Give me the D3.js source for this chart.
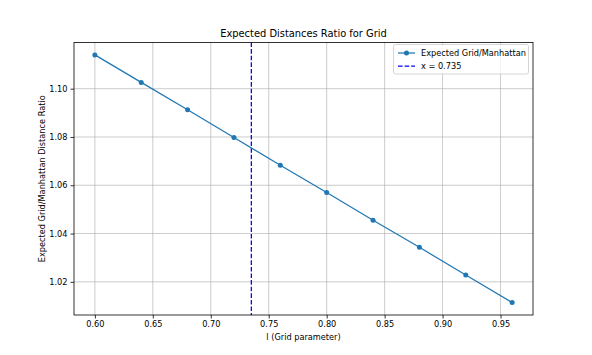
<!DOCTYPE html>
<html><head><meta charset="utf-8">
<script src="https://cdn.jsdelivr.net/npm/d3@7"></script>
<style>body{margin:0;background:#fff}svg{display:block;font-family:"DejaVu Sans",sans-serif}</style>
</head><body><svg id="c" width="592" height="355"></svg>
<script>
const xValues = [0.60, 0.64, 0.68, 0.72, 0.76, 0.80, 0.84, 0.88, 0.92, 0.96];
const ratioValues = [1.1140, 1.1026, 1.0913, 1.0798, 1.0683, 1.0570, 1.0455, 1.0343, 1.0228, 1.0114];
const xTicks = [0.60, 0.65, 0.70, 0.75, 0.80, 0.85, 0.90, 0.95];
const yTicks = [1.02, 1.04, 1.06, 1.08, 1.10];
const vLine = 0.735;
const title = "Expected Distances Ratio for Grid";
const xLabel = "l (Grid parameter)";
const yLabel = "Expected Grid/Manhattan Distance Ratio";
const legendLabels = ["Expected Grid/Manhattan", "x = 0.735"];

const svg = d3.select("#c");
const L = 74, R = 533, T = 42.5, B = 315;
const xmin = d3.min(xValues), xmax = d3.max(xValues);
const ymin = d3.min(ratioValues), ymax = d3.max(ratioValues);
const xp = (xmax - xmin) * 0.05, yp = (ymax - ymin) * 0.05;
const x = d3.scaleLinear().domain([xmin - xp, xmax + xp]).range([L, R]);
const y = d3.scaleLinear().domain([ymin - yp, ymax + yp]).range([B, T]);
const blue = "#1f77b4";

// grid
const g = svg.append("g");
g.selectAll(".gx").data(xTicks).enter().append("line")
  .attr("x1", d => x(d)).attr("x2", d => x(d)).attr("y1", T).attr("y2", B)
  .attr("stroke", "#b0b0b0").attr("stroke-width", 0.8).attr("opacity", 0.8);
g.selectAll(".gy").data(yTicks).enter().append("line")
  .attr("y1", d => y(d)).attr("y2", d => y(d)).attr("x1", L).attr("x2", R)
  .attr("stroke", "#b0b0b0").attr("stroke-width", 0.8).attr("opacity", 0.8);

// axes
const xa = svg.append("g").attr("transform", `translate(0,${B})`)
  .call(d3.axisBottom(x).tickValues(xTicks).tickFormat(d3.format(".2f")).tickSize(3.5).tickPadding(3));
const ya = svg.append("g").attr("transform", `translate(${L},0)`)
  .call(d3.axisLeft(y).tickValues(yTicks).tickFormat(d3.format(".2f")).tickSize(3.5).tickPadding(3));
[xa, ya].forEach(a => {
  a.select(".domain").remove();
  a.selectAll("line").attr("stroke", "#000").attr("stroke-width", 0.8);
  a.selectAll("text").attr("font-size", 8.2).attr("fill", "#000").attr("font-family", "DejaVu Sans");
});

// vertical line
svg.append("line").attr("x1", x(vLine)).attr("x2", x(vLine)).attr("y1", T).attr("y2", B)
  .attr("stroke", "#0000ff").attr("stroke-width", 1.25).attr("stroke-dasharray", "4.6,2");

// line + markers
const pts = xValues.map((d, i) => [d, ratioValues[i]]);
svg.append("path").datum(pts)
  .attr("d", d3.line().x(d => x(d[0])).y(d => y(d[1])))
  .attr("fill", "none").attr("stroke", blue).attr("stroke-width", 1.25);
svg.selectAll(".pt").data(pts).enter().append("circle")
  .attr("cx", d => x(d[0])).attr("cy", d => y(d[1])).attr("r", 2.5).attr("fill", blue);

// frame
svg.append("rect").attr("x", L).attr("y", T).attr("width", R - L).attr("height", B - T)
  .attr("fill", "none").attr("stroke", "#000").attr("stroke-width", 0.8);

// title & labels
svg.append("text").attr("x", (L + R) / 2).attr("y", 37).attr("text-anchor", "middle")
  .attr("font-size", 9.9).text(title);
svg.append("text").attr("x", (L + R) / 2).attr("y", 340).attr("text-anchor", "middle")
  .attr("font-size", 8.2).text(xLabel);
svg.append("text").attr("transform", `translate(45,${(T + B) / 2}) rotate(-90)`)
  .attr("text-anchor", "middle").attr("font-size", 8.2).text(yLabel);

// legend
const lg = svg.append("g");
lg.append("rect").attr("x", 393.5).attr("y", 44.5).attr("width", 135).attr("height", 29.5).attr("rx", 2)
  .attr("fill", "#fff").attr("fill-opacity", 0.8).attr("stroke", "#cccccc").attr("stroke-width", 0.8);
lg.append("line").attr("x1", 398).attr("x2", 415).attr("y1", 53).attr("y2", 53)
  .attr("stroke", blue).attr("stroke-width", 1.25);
lg.append("circle").attr("cx", 406.5).attr("cy", 53).attr("r", 2.5).attr("fill", blue);
lg.append("line").attr("x1", 398).attr("x2", 415).attr("y1", 66).attr("y2", 66)
  .attr("stroke", "#0000ff").attr("stroke-width", 1.25).attr("stroke-dasharray", "4.6,2");
lg.append("text").attr("x", 421).attr("y", 56).attr("font-size", 8.2).text(legendLabels[0]);
lg.append("text").attr("x", 421).attr("y", 69).attr("font-size", 8.2).text(legendLabels[1]);
</script></body></html>
